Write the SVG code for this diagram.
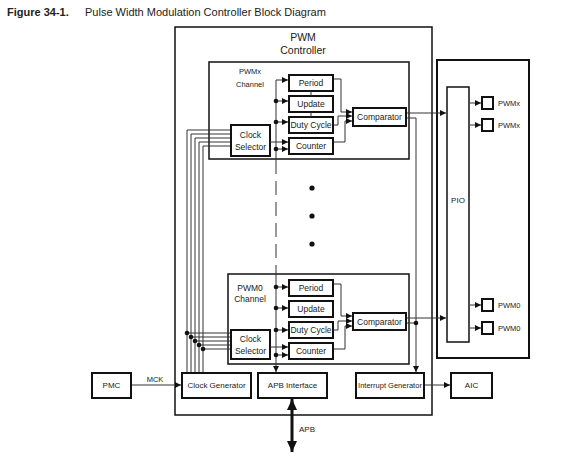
<svg xmlns="http://www.w3.org/2000/svg" width="567" height="456" viewBox="0 0 567 456">
<style>
text{font-family:"Liberation Sans",Arial,sans-serif;fill:#222;text-anchor:middle}
.b{fill:#fff;stroke:#111;stroke-width:2}
.c{fill:none;stroke:#111;stroke-width:1.5}
.l{fill:none;stroke:#333;stroke-width:1}
.t{font-size:8.5px}
.s{font-size:8px}
.p{font-size:7.5px;text-anchor:start}
.d{fill:#111}
</style>
<defs>
<marker id="a" viewBox="0 0 6 6" refX="6" refY="3" markerWidth="6" markerHeight="6" markerUnits="userSpaceOnUse" orient="auto"><path d="M0,0L6,3L0,6z" fill="#111"/></marker>
<marker id="A" viewBox="0 0 11 10" refX="11" refY="5" markerWidth="11" markerHeight="10" markerUnits="userSpaceOnUse" orient="auto-start-reverse"><path d="M0,0L11,5L0,10z" fill="#111"/></marker>
</defs>
<rect width="567" height="456" fill="#fff"/>
<text x="7" y="16" style="font-size:11px;font-weight:bold;text-anchor:start">Figure 34-1.</text>
<text x="85" y="16" style="font-size:11px;text-anchor:start">Pulse Width Modulation Controller Block Diagram</text>

<g id="pwm-controller">
<rect class="c" x="175" y="27" width="257" height="388"/>
<text x="303" y="41" style="font-size:10.5px">PWM</text>
<text x="303" y="54" style="font-size:10.5px">Controller</text>
</g>
<g id="pwmx-channel">
<rect class="c" x="209" y="62" width="200" height="97"/>
<text x="250" y="74" style="font-size:7.5px">PWMx</text>
<text x="250" y="87" style="font-size:7.5px">Channel</text>
</g>
<g id="pwm0-channel">
<rect class="c" x="228" y="274" width="181" height="90"/>
<text x="250" y="291" class="t">PWM0</text>
<text x="250" y="302" class="t">Channel</text>
</g>

<g id="x-period"><rect class="b" x="289" y="75" width="44" height="16"/><text x="311" y="86" class="t">Period</text></g>
<g id="x-update"><rect class="b" x="289" y="96" width="44" height="16"/><text x="311" y="107" class="t">Update</text></g>
<g id="x-duty"><rect class="b" x="289" y="117" width="44" height="16"/><text x="311" y="128" class="t">Duty Cycle</text></g>
<g id="x-counter"><rect class="b" x="289" y="138" width="44" height="16"/><text x="311" y="149" class="t">Counter</text></g>
<g id="x-comparator"><rect class="b" x="353" y="108" width="53" height="18"/><text x="379.5" y="120" class="t">Comparator</text></g>
<g id="x-clocksel"><rect class="b" x="231" y="125" width="39" height="31"/><text x="250.5" y="138" class="t">Clock</text><text x="250.5" y="150" class="t">Selector</text></g>

<g id="o-period"><rect class="b" x="289" y="280" width="44" height="16"/><text x="311" y="291" class="t">Period</text></g>
<g id="o-update"><rect class="b" x="289" y="301" width="44" height="16"/><text x="311" y="312" class="t">Update</text></g>
<g id="o-duty"><rect class="b" x="289" y="322" width="44" height="16"/><text x="311" y="333" class="t">Duty Cycle</text></g>
<g id="o-counter"><rect class="b" x="289" y="343" width="44" height="16"/><text x="311" y="354" class="t">Counter</text></g>
<g id="o-comparator"><rect class="b" x="353" y="313" width="53" height="17"/><text x="379.5" y="324.5" class="t">Comparator</text></g>
<g id="o-clocksel"><rect class="b" x="231" y="330" width="39" height="29"/><text x="250.5" y="342" class="t">Clock</text><text x="250.5" y="354" class="t">Selector</text></g>

<g id="pio-block"><rect class="b" x="437" y="60" width="92" height="298"/></g>
<g id="pio"><rect class="c" x="447" y="87" width="22" height="255" fill="#fff"/><text x="458" y="203" class="s">PIO</text></g>
<g id="pin-x1"><rect class="b" x="482" y="97" width="11" height="12"/><text x="498" y="106" class="p">PWMx</text></g>
<g id="pin-x2"><rect class="b" x="482" y="119" width="11" height="12"/><text x="498" y="128" class="p">PWMx</text></g>
<g id="pin-01"><rect class="b" x="482" y="299" width="11" height="12"/><text x="498" y="308" class="p">PWM0</text></g>
<g id="pin-02"><rect class="b" x="482" y="322" width="11" height="12"/><text x="498" y="331" class="p">PWM0</text></g>

<g id="pmc"><rect class="b" x="92" y="373" width="39" height="25"/><text x="111.5" y="388" class="s">PMC</text></g>
<g id="clock-generator"><rect class="b" x="182" y="373" width="69" height="25"/><text x="216.5" y="388" class="s">Clock Generator</text></g>
<g id="apb-interface"><rect class="b" x="258" y="373" width="69" height="25"/><text x="292.5" y="388" class="s">APB Interface</text></g>
<g id="interrupt-generator"><rect class="b" x="356" y="373" width="68" height="25"/><text x="390" y="388" style="font-size:7.5px">Interrupt Generator</text></g>
<g id="aic"><rect class="b" x="451" y="373" width="41" height="25"/><text x="471.5" y="388" class="s">AIC</text></g>

<g id="connectors">
<path class="l" d="M276,160V80H288" marker-end="url(#a)"/>
<path class="l" d="M276,160V274" stroke-dasharray="14 7"/>
<path class="l" d="M276,274V372" marker-end="url(#a)"/>
<path class="l" d="M276,101H288" marker-end="url(#a)"/>
<path class="l" d="M276,122H288" marker-end="url(#a)"/>
<path class="l" d="M276,149H288" marker-end="url(#a)"/>
<path class="l" d="M270,142H288" marker-end="url(#a)"/>
<path class="l" d="M276,287H288" marker-end="url(#a)"/>
<path class="l" d="M276,308H288" marker-end="url(#a)"/>
<path class="l" d="M276,330H288" marker-end="url(#a)"/>
<path class="l" d="M276,355H288" marker-end="url(#a)"/>
<path class="l" d="M270,347H288" marker-end="url(#a)"/>
<path class="l" d="M311,91V96M311,112V117"/>
<path class="l" d="M334,79H341V112H352" marker-end="url(#a)"/>
<path class="l" d="M334,125H338V116H352" marker-end="url(#a)"/>
<path class="l" d="M334,142H345V121H352" marker-end="url(#a)"/>
<path class="l" d="M334,284H341V316H352" marker-end="url(#a)"/>
<path class="l" d="M334,330H338V321H352" marker-end="url(#a)"/>
<path class="l" d="M334,349H345V326H352" marker-end="url(#a)"/>
<path class="l" d="M407,113H446" marker-end="url(#a)"/>
<path class="l" d="M407,318H446" marker-end="url(#a)"/>
<path class="l" d="M407,118H416V372" marker-end="url(#a)"/>
<path class="l" d="M407,323H416"/>
<path class="l" d="M470,103H481" marker-end="url(#a)"/>
<path class="l" d="M470,125H481" marker-end="url(#a)"/>
<path class="l" d="M470,305H481" marker-end="url(#a)"/>
<path class="l" d="M470,328H481" marker-end="url(#a)"/>
<path class="l" d="M132,385H181" marker-end="url(#a)"/>
<path class="l" d="M425,385H450" marker-end="url(#a)"/>
<path class="l" d="M187,372V130H230M191,372V134H230M195,372V138H230M199,372V142H230M203,372V146H230"/>
<path class="l" d="M187,333H230M191,337H230M195,341H230M199,345H230M203,349H230"/>
<path d="M292,399V452" stroke="#111" stroke-width="3" marker-start="url(#A)" marker-end="url(#A)"/>
<text x="307" y="432" class="s">APB</text>
<text x="155" y="382" style="font-size:7.5px">MCK</text>
<g class="d">
<circle cx="276" cy="101" r="2.3"/><circle cx="276" cy="122" r="2.3"/><circle cx="276" cy="149" r="2.3"/>
<circle cx="276" cy="287" r="2.3"/><circle cx="276" cy="308" r="2.3"/><circle cx="276" cy="330" r="2.3"/><circle cx="276" cy="355" r="2.3"/>
<circle cx="416" cy="323" r="2.3"/>
<circle cx="187" cy="333" r="2.3"/><circle cx="191" cy="337" r="2.3"/><circle cx="195" cy="341" r="2.3"/><circle cx="199" cy="345" r="2.3"/><circle cx="203" cy="349" r="2.3"/>
<circle cx="312" cy="188" r="2.6"/><circle cx="312" cy="216" r="2.6"/><circle cx="312" cy="244" r="2.6"/>
</g>
</g>
</svg>
